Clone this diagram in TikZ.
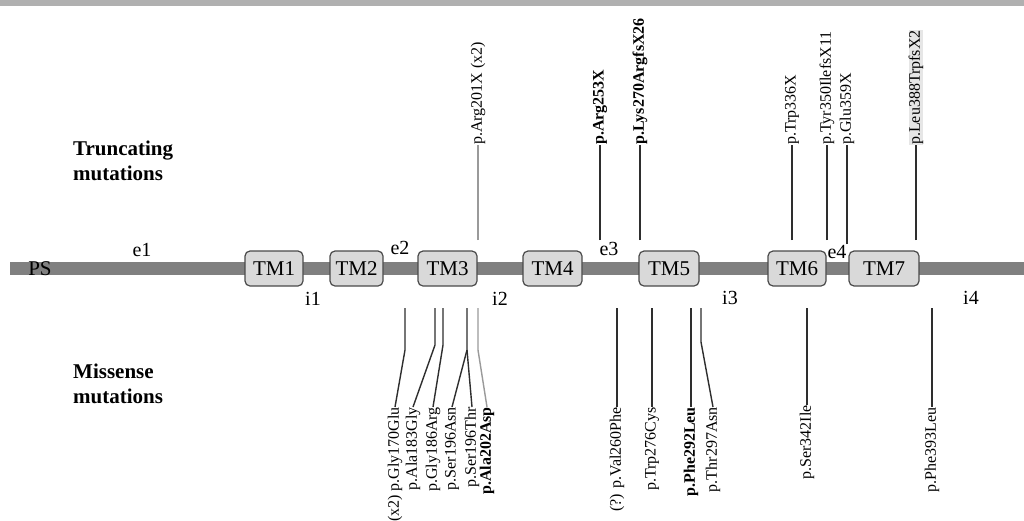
\documentclass[tikz,border=0pt]{standalone}
\usepackage{fontspec}
\setmainfont{Liberation Serif}
\definecolor{bandcol}{HTML}{B0B0B0}
\definecolor{barcol}{HTML}{808080}
\definecolor{boxfill}{HTML}{D9D9D9}
\definecolor{boxdraw}{HTML}{4A4A4A}
\definecolor{linedark}{HTML}{2E2E2E}
\definecolor{linelight}{HTML}{9A9A9A}
\definecolor{hilite}{HTML}{E6E6E6}
\begin{document}
\begin{tikzpicture}[x=1pt,y=-1pt,
  tmbox/.style={draw=boxdraw,fill=boxfill,line width=1.2pt,rounded corners=5pt,
    minimum height=35pt,inner sep=0pt,font=\fontsize{21}{24}\selectfont},
  seglab/.style={inner sep=0pt,font=\fontsize{20}{24}\selectfont},
  toplab/.style={rotate=90,anchor=west,inner sep=0pt,font=\fontsize{16}{19}\selectfont},
  botlab/.style={rotate=90,anchor=east,inner sep=0pt,font=\fontsize{16}{19}\selectfont},
  mutline/.style={draw=linedark,line width=1.4pt},
  mutlight/.style={draw=linelight,line width=1.4pt},
  heading/.style={anchor=north west,inner sep=0pt,align=left,font=\fontsize{21}{25}\selectfont\bfseries}]
\useasboundingbox (0,0) rectangle (1024,520);
\fill[white] (0,0) rectangle (1024,520);
\fill[bandcol] (0,0) rectangle (1024,6);
% backbone
\fill[barcol] (10,262) rectangle (1024,275);
\node[seglab,text=black,font=\fontsize{21}{24}\selectfont] (PS) at (40,269) {PS};
% TM boxes
\node[tmbox,minimum width=58pt] (TM1) at (274,268.5) {TM1};
\node[tmbox,minimum width=53pt] (TM2) at (356.5,268.5) {TM2};
\node[tmbox,minimum width=59pt] (TM3) at (447.5,268.5) {TM3};
\node[tmbox,minimum width=59pt] (TM4) at (552.5,268.5) {TM4};
\node[tmbox,minimum width=60pt] (TM5) at (669,268.5) {TM5};
\node[tmbox,minimum width=58pt] (TM6) at (797,268.5) {TM6};
\node[tmbox,minimum width=70pt] (TM7) at (884,268.5) {TM7};
% segment labels
\node[seglab] (e1) at (142,250) {e1};
\node[seglab] (e2) at (400,248) {e2};
\node[seglab] (e3) at (609,249) {e3};
\node[seglab] (e4) at (837,252) {e4};
\node[seglab] (i1) at (313,299) {i1};
\node[seglab] (i2) at (500,299) {i2};
\node[seglab] (i3) at (730,298) {i3};
\node[seglab] (i4) at (971,298) {i4};
% headings
\node[heading] (trunc) at (73,141) {Truncating\\mutations};
\node[heading] (miss) at (73,364) {Missense\\mutations};
% truncating mutations
\node[toplab] (t201) at (478,145) {p.Arg201X (x2)};
\node[toplab,font=\fontsize{16}{19}\selectfont\bfseries] (t253) at (600,145) {p.Arg253X};
\node[toplab,font=\fontsize{16}{19}\selectfont\bfseries] (t270) at (640,145) {p.Lys270ArgfsX26};
\node[toplab] (t336) at (792,145) {p.Trp336X};
\node[toplab] (t350) at (827,145) {p.Tyr350IlefsX11};
\node[toplab] (t359) at (847,145) {p.Glu359X};
\node[toplab,fill=hilite] (t388) at (916,145) {p.Leu388TrpfsX2};
\coordinate (c201) at (478,240);
\coordinate (c253) at (600,240);
\coordinate (c270) at (640,240);
\coordinate (c336) at (792,240);
\coordinate (c350) at (827,240);
\coordinate (c359) at (847,244);
\coordinate (c388) at (916,240);
\draw[mutlight] (c201) -- (t201.west);
\draw[mutline] (c253) -- (t253.west);
\draw[mutline] (c270) -- (t270.west);
\draw[mutline] (c336) -- (t336.west);
\draw[mutline] (c350) -- (t350.west);
\draw[mutline] (c359) -- (t359.west);
\draw[mutline] (c388) -- (t388.west);
% missense mutations
\node[botlab] (m170) at (395,407) {(x2) p.Gly170Glu};
\node[botlab] (m183) at (413,407) {p.Ala183Gly};
\node[botlab] (m186) at (433,407) {p.Gly186Arg};
\node[botlab] (m196n) at (452,407) {p.Ser196Asn};
\node[botlab] (m196t) at (472,407) {p.Ser196Thr};
\node[botlab,font=\fontsize{16}{19}\selectfont\bfseries] (m202) at (487,407) {p.Ala202Asp};
\node[botlab] (m260) at (617,407) {(?) p.Val260Phe};
\node[botlab] (m276) at (652,407) {p.Trp276Cys};
\node[botlab,font=\fontsize{16}{19}\selectfont\bfseries] (m292) at (691,407) {p.Phe292Leu};
\node[botlab] (m297) at (713,407) {p.Thr297Asn};
\node[botlab] (m342) at (807,405) {p.Ser342Ile};
\node[botlab] (m393) at (932,407) {p.Phe393Leu};
\coordinate (b170) at (405,308); \coordinate (k170) at (405,350);
\coordinate (b183) at (435,308); \coordinate (k183) at (435,345);
\coordinate (b186) at (443,308); \coordinate (k186) at (443,345);
\coordinate (b196) at (467,308); \coordinate (k196) at (467,350);
\coordinate (b202) at (478,308); \coordinate (k202) at (478,350);
\coordinate (b260) at (617,308);
\coordinate (b276) at (652,308);
\coordinate (b292) at (691,308);
\coordinate (b297) at (701,308); \coordinate (k297) at (701,342);
\coordinate (b342) at (807,308);
\coordinate (b393) at (932,308);
\draw[mutline] (b170) -- (k170) -- (m170.east);
\draw[mutline] (b183) -- (k183) -- (m183.east);
\draw[mutline] (b186) -- (k186) -- (m186.east);
\draw[mutline] (b196) -- (k196) -- (m196n.east);
\draw[mutline] (k196) -- (m196t.east);
\draw[mutlight] (b202) -- (k202) -- (m202.east);
\draw[mutline] (b260) -- (m260.east);
\draw[mutline] (b276) -- (m276.east);
\draw[mutline] (b292) -- (m292.east);
\draw[mutline] (b297) -- (k297) -- (m297.east);
\draw[mutline] (b342) -- (m342.east);
\draw[mutline] (b393) -- (m393.east);
\end{tikzpicture}
\end{document}
